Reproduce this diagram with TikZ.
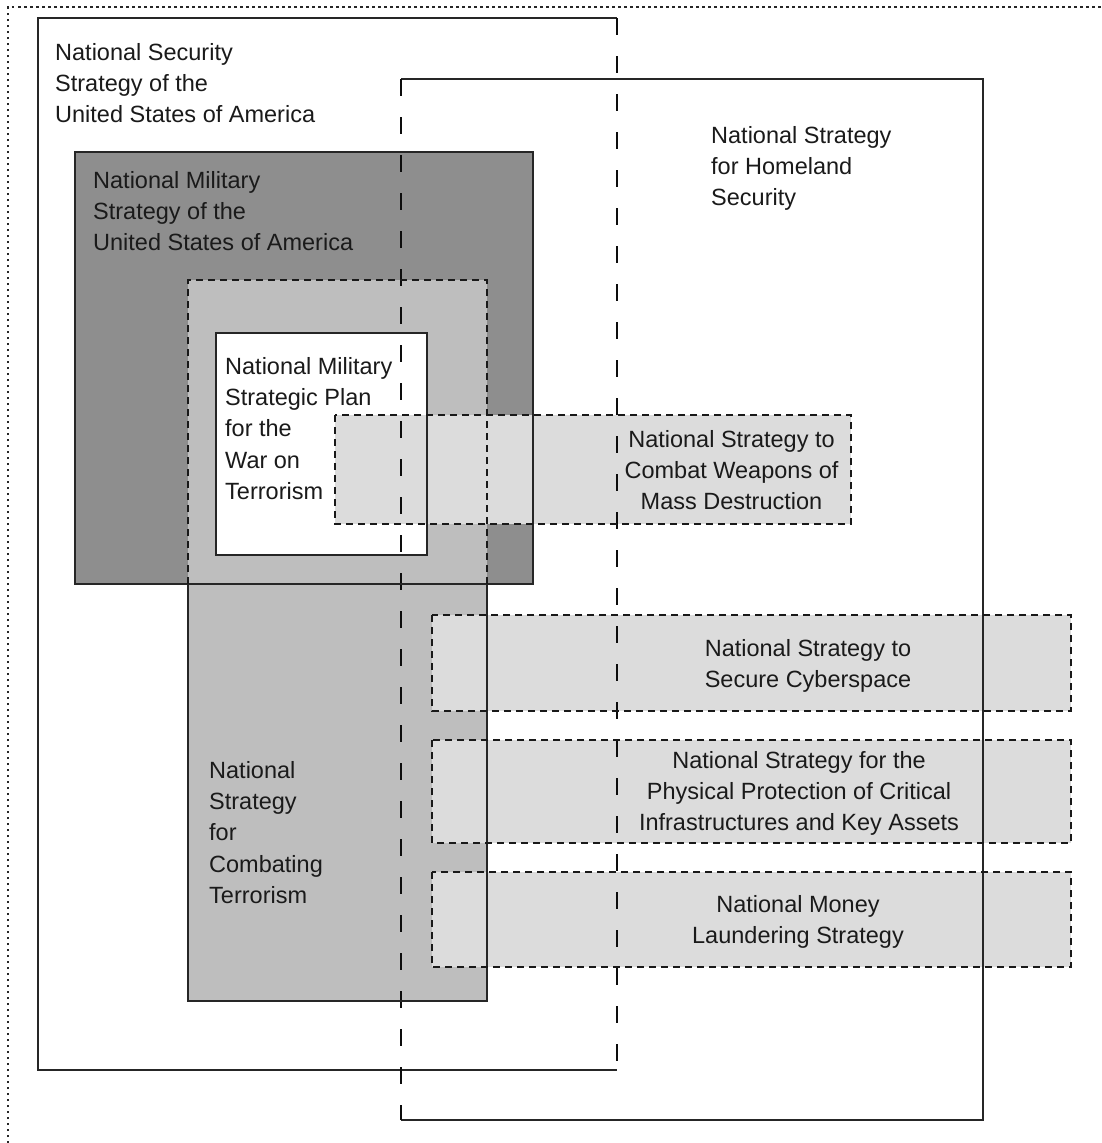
\documentclass[tikz,border=0pt]{standalone}
\usepackage{fontspec}
\setmainfont{Liberation Sans}
\definecolor{darkfill}{HTML}{8E8E8E}
\definecolor{midfill}{HTML}{BEBEBE}
\definecolor{lightfill}{HTML}{DCDCDC}
\definecolor{inkc}{HTML}{1A1A1A}
\begin{document}
\begin{tikzpicture}[x=1pt,y=-1pt,
  solidln/.style={line width=2.5pt, draw=black!85},
  longdash/.style={line width=2.5pt, draw=black!95, dash pattern=on 17pt off 21pt},
  shortdash/.style={line width=2.3pt, draw=black!90, dash pattern=on 7pt off 5pt},
  dotln/.style={line width=2.3pt, draw=black!85, dash pattern=on 2.5pt off 3.5pt},
  lbl/.style={inner sep=0pt, font=\fontsize{23.5}{31.3}\selectfont, text=inkc},
  lblL/.style={lbl, anchor=north west, align=left},
  lblC/.style={lbl, anchor=north, align=center}]
\useasboundingbox (0,0) rectangle (1102,1143);
\fill[white] (0,0) rectangle (1102,1143);
% outer dotted frame
\draw[dotln] (8,1143) -- (8,7) -- (1102,7);
% fills
\fill[darkfill] (75,152) rectangle (533,584);
\fill[midfill] (188,280) rectangle (487,1001);
\fill[white] (216,333) rectangle (427,555);
\fill[lightfill] (335,415) rectangle (851,524);
\fill[lightfill] (432,615) rectangle (1071,711);
\fill[lightfill] (432,740) rectangle (1071,843);
\fill[lightfill] (432,872) rectangle (1071,967);
% NSS frame
\draw[solidln] (617,18) -- (38,18) -- (38,1070) -- (617,1070);
\draw[longdash] (617,18) -- (617,1070);
% Homeland frame
\draw[solidln] (401,79) -- (983,79) -- (983,1120) -- (401,1120);
\draw[longdash] (401,79) -- (401,1120);
% military
\draw[solidln] (75,152) rectangle (533,584);
% combating terrorism
\draw[solidln] (188,584) -- (188,1001) -- (487,1001) -- (487,584);
\draw[shortdash] (188,584) -- (188,280) -- (487,280) -- (487,584);
% war on terrorism plan
\draw[solidln] (216,333) rectangle (427,555);
% light boxes
\draw[shortdash] (335,415) rectangle (851,524);
\draw[shortdash] (432,615) rectangle (1071,711);
\draw[shortdash] (432,740) rectangle (1071,843);
\draw[shortdash] (432,872) rectangle (1071,967);
% labels
\node[lblL] (nss) at (55,38) {\strut National Security\\Strategy of the\\United States of America};
\node[lblL] (nms) at (93,166) {\strut National Military\\Strategy of the\\United States of America};
\node[lblL] (nshs) at (711,121) {\strut National Strategy\\for Homeland\\Security};
\node[lblL] (nmsp) at (225,352) {\strut National Military\\Strategic Plan\\for the\\War on\\Terrorism};
\node[lblC] (wmd) at (731.5,425) {\strut National Strategy to\\Combat Weapons of\\Mass Destruction};
\node[lblC] (cyber) at (808,634) {\strut National Strategy to\\Secure Cyberspace};
\node[lblC] (phys) at (799,746) {\strut National Strategy for the\\Physical Protection of Critical\\Infrastructures and Key Assets};
\node[lblC] (money) at (798,890) {\strut National Money\\Laundering Strategy};
\node[lblL] (ct) at (209,756) {\strut National\\Strategy\\for\\Combating\\Terrorism};
\end{tikzpicture}
\end{document}
